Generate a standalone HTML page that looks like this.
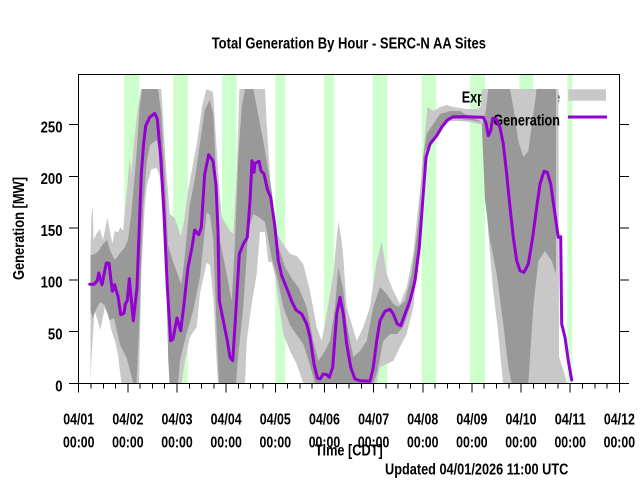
<!DOCTYPE html>
<html><head><meta charset="utf-8"><style>
html,body{margin:0;padding:0;background:#fff;}
svg{display:block;}
text{font-family:"Liberation Sans",Arial,sans-serif;font-weight:bold;font-size:16px;fill:#000;}
.t{font-size:15.5px;}
</style></head><body>
<svg width="640" height="480" viewBox="0 0 640 480" xmlns="http://www.w3.org/2000/svg">
<rect x="0" y="0" width="640" height="480" fill="#fff"/>
<g fill="#ccffcc">
<rect x="124.3" y="74.5" width="15" height="309"/>
<rect x="173.2" y="74.5" width="14.6" height="309"/>
<rect x="222" y="74.5" width="14.7" height="309"/>
<rect x="275.3" y="74.5" width="10" height="309"/>
<rect x="324" y="74.5" width="10" height="309"/>
<rect x="372.7" y="74.5" width="14.6" height="309"/>
<rect x="421.7" y="74.5" width="14.3" height="309"/>
<rect x="470" y="74.5" width="15" height="309"/>
<rect x="519.3" y="74.5" width="14" height="309"/>
<rect x="567.3" y="74.5" width="5" height="309"/>
</g>
<text x="461.7" y="102.7" textLength="98.3" lengthAdjust="spacingAndGlyphs">Expected Range</text>
<rect x="568.3" y="89.3" width="37.7" height="11.4" fill="#c8c8c8"/>
<polygon fill="#c8c8c8" points="90.5,250 91.5,215 92.7,207 93.5,240 96.3,234 99.7,229 103,240 107.3,218 109.7,230 112.3,244 114.7,231 118,232 120.7,227 123,231 127.3,187 129.7,157 131.3,174 134,141 138,107 141,89 161.3,89 165.3,157 169.7,214 174.7,218 178,227 180.7,237 184,221 188,191 193,164 197.3,141 202,107 206.3,89 213,92 218.3,174 221.7,217 230,231 233.3,234 236.7,174 239.3,89 265,89 266.7,124 271.7,201 276.7,234 283.3,244 290,254 296.7,256 303.3,264 310,291 316.7,327 321.7,341 326.7,314 333.3,274 338.3,221 341.7,241 343.3,257 346.7,307 356.7,341 363.3,327 370,307 376.7,261 381.7,242 386.7,274 393.3,291 400,304 406.7,287 413.3,254 420,191 425,134 427.3,107 433.3,111 440,107 446.7,105 453.3,107 466.7,109 476.7,109 481,107 481.7,89 558.5,89 559,357 564,372 567,383.5 503,383.5 498,330 493,290 488,230 484,170 481.7,124 478.3,124 470,122 460,121 450,121 443.3,127 436.7,137 430,146 425,157 421.7,191 418.3,257 413.3,307 406.7,334 400,347 393.3,361 386.7,364 380,367 376.7,383.5 303.3,383.5 296.7,364 290,351 283.3,334 275,276 271.7,262 268.3,262 265,232 260,232 256.7,274 251.7,304 246.7,341 245,383.5 218,383.5 216.5,360 213.5,300 210,265 206.7,263 200,293 196.7,327 190,337 185,360 181.7,383.5 170,383.5 168.3,360 165,227 160,177 156.7,168 151.5,169 147,185 144.7,207 141.3,274 139,383.5 121.5,383.5 118,355 115,341 111.3,330 108,314 104.7,308 100.5,330 94.5,310 91.3,362 90.5,383.5"/>
<polygon fill="#999999" points="90.5,255 92.7,255 98,252 103,244 107.3,240 110,250 114.7,260 121,252 125,247 128,240 131.3,214 136.3,157 139.7,107 142,89 158,89 161.3,114 164.7,174 168,245 173,262 178,275 181.3,285 184.7,257 189.7,205 194.7,180 199.7,145 204.7,110 209.7,100 213.3,114 216.7,191 220,241 226.7,274 231.7,301 235,241 238.3,157 241.7,107 245,89 253.3,89 256.7,107 263.3,141 271.7,191 276.7,241 285,267 293.3,281 298.3,287 306.7,307 313.3,341 318.3,361 325,351 330,341 335,307 338.3,267 343.3,290 346.7,324 353.3,357 360,351 366.7,341 373.3,307 380,287 386.7,294 393.3,304 398.3,307 405,301 411.7,274 418.3,224 423.3,157 426.7,134 433.3,124 440,114 450,111 460,111 470,117 480,121 483,124 486,110 488.3,89 510,89 513.3,107 518.3,141 523.3,157 528.3,151 533.3,114 536.7,89 556,89 556,274 551.7,261 545,251 538.3,261 533.3,307 528.3,383.5 511.7,383.5 508.3,367 503.3,324 496.7,274 490,240 485,200 481.7,122 470,120 460,119 450,119 440,127 431.7,141 425,151 421.7,181 416.7,274 410,307 403.3,327 396.7,334 390,334 383.3,341 376.7,374 373.3,383.5 315,383.5 310,365 303.3,344 296.7,335 290,325 283.3,307 276.7,275 271.7,258 265,222 260,218 253.3,214 248.3,230 243.3,307 238,357 236,383.5 219,383.5 216.7,330 213.3,240 210,215 206.7,212 200,277 193.3,310 186.7,333 180,360 178,383.5 169.5,383.5 168.3,360 165,227 161.7,160 156.7,140 150,145 147,160 143.3,205 141.5,250 139,330 136.5,383.5 133.3,383.5 126.7,358 120,345 114,318 109.7,320 104.7,305 100,302 95,312 92.7,318 90.5,310"/>
<text x="493.3" y="125.7" textLength="66.7" lengthAdjust="spacingAndGlyphs">Generation</text>
<line x1="568" y1="117" x2="607" y2="117" stroke="#9400d3" stroke-width="3"/>
<polyline fill="none" stroke="#9400d3" stroke-width="3" stroke-linejoin="round" stroke-linecap="round" points="89.7,284.3 94,284.3 97.3,280.7 98.7,273 102,284.7 106.3,263 109,263.3 112.3,291.3 114.7,284.7 116,290 118,296 120.7,314.7 124,313.3 125.3,304 127.3,300.7 129.3,278.7 133.3,320.7 137,287.3 141.3,174 143.5,145 145.7,125.7 149.7,117.3 154.7,113.3 157.3,119 160.7,157.3 164,214 167.3,287.3 170.7,340.7 173,339 177,318 180.7,330.7 184,304 188,267.3 192,247.3 194.7,230 198.7,234.7 201.3,227.3 204.7,174 208.7,154.7 213,161 216,185 218,230 219.3,300.7 223.3,320.7 227.3,340.7 230,357.3 232.7,360.7 235.3,320.7 239.3,254 243.3,244 247.3,237.3 250,200.7 252,160.7 254,172.3 255,163.3 259,161.3 261,170.7 264,174 267.3,189 270.7,197.3 275,227.3 278.3,260.7 281.7,275.7 285,284 289,294 291.7,301.3 296,310 301.7,314 306.7,324 310,337.3 314,364 317.3,378 320,379 323.3,374 326.7,374.7 329.3,377.3 332.7,367.3 336.7,314 340,297.3 343.3,314 346.7,344 350.7,367.3 355,379 360,380.7 370,381.3 373.3,367.3 376.7,340.7 380,320.7 385,311.3 390,309.3 393.3,314 397.3,324 400.7,325.7 405,314 410,300.7 415,280.7 419.3,247.3 422.7,200.7 426,157.3 430,144 436.7,135.7 441.7,127.3 447.3,120 453.3,116.7 466.7,116.7 480,117.3 483.3,117.3 486,123.3 488.3,135.7 490.7,130.7 492.7,118.3 496,119 500,127.3 503.3,144 506.7,174 510,207.3 513.3,237.3 516.7,260.7 520,270.7 524,272.3 528.3,264 532.7,237.3 536.7,207.3 540,184 544,171.3 547.3,172.3 550.7,184 554,207.3 557.3,230.7 558.3,237.3 560.7,236.7 561.7,324 565,337.3 568.3,360.7 571.7,380"/>
<rect x="78.5" y="74.5" width="541" height="309" fill="none" stroke="#000" stroke-width="1" shape-rendering="crispEdges"/>
<path fill="none" stroke="#000" stroke-width="1" shape-rendering="crispEdges" d="M69 383.5H78.5M69 331.7H78.5M69 279.9H78.5M69 228.1H78.5M69 176.3H78.5M69 124.5H78.5
M619.5 383.5H629M619.5 331.7H629M619.5 279.9H629M619.5 228.1H629M619.5 176.3H629M619.5 124.5H629
M78.7 383.5V392.5M127.85 383.5V392.5M177 383.5V392.5M226.15 383.5V392.5M275.3 383.5V392.5M324.45 383.5V392.5M373.6 383.5V392.5M422.75 383.5V392.5M471.9 383.5V392.5M521.05 383.5V392.5M570.2 383.5V392.5M619.35 383.5V392.5
M91 383.5V388.5M103.3 383.5V388.5M115.6 383.5V388.5M140.1 383.5V388.5M152.4 383.5V388.5M164.7 383.5V388.5M189.3 383.5V388.5M201.6 383.5V388.5M213.9 383.5V388.5M238.4 383.5V388.5M250.7 383.5V388.5M263 383.5V388.5M287.6 383.5V388.5M299.9 383.5V388.5M312.2 383.5V388.5M336.7 383.5V388.5M349 383.5V388.5M361.3 383.5V388.5M385.9 383.5V388.5M398.2 383.5V388.5M410.5 383.5V388.5M435 383.5V388.5M447.3 383.5V388.5M459.6 383.5V388.5M484.2 383.5V388.5M496.5 383.5V388.5M508.8 383.5V388.5M533.3 383.5V388.5M545.6 383.5V388.5M557.9 383.5V388.5M582.5 383.5V388.5M594.8 383.5V388.5M607.1 383.5V388.5"/>
<text x="55.2" y="391.3" textLength="7.3" lengthAdjust="spacingAndGlyphs">0</text>
<text x="47.9" y="339.5" textLength="14.6" lengthAdjust="spacingAndGlyphs">50</text>
<text x="40.6" y="287.7" textLength="21.9" lengthAdjust="spacingAndGlyphs">100</text>
<text x="40.6" y="235.9" textLength="21.9" lengthAdjust="spacingAndGlyphs">150</text>
<text x="40.6" y="184.1" textLength="21.9" lengthAdjust="spacingAndGlyphs">200</text>
<text x="40.6" y="132.3" textLength="21.9" lengthAdjust="spacingAndGlyphs">250</text>
<g>
<text x="63.2" y="424.3" textLength="31" lengthAdjust="spacingAndGlyphs">04/01</text>
<text x="112.35" y="424.3" textLength="31" lengthAdjust="spacingAndGlyphs">04/02</text>
<text x="161.5" y="424.3" textLength="31" lengthAdjust="spacingAndGlyphs">04/03</text>
<text x="210.65" y="424.3" textLength="31" lengthAdjust="spacingAndGlyphs">04/04</text>
<text x="259.8" y="424.3" textLength="31" lengthAdjust="spacingAndGlyphs">04/05</text>
<text x="308.95" y="424.3" textLength="31" lengthAdjust="spacingAndGlyphs">04/06</text>
<text x="358.1" y="424.3" textLength="31" lengthAdjust="spacingAndGlyphs">04/07</text>
<text x="407.25" y="424.3" textLength="31" lengthAdjust="spacingAndGlyphs">04/08</text>
<text x="456.4" y="424.3" textLength="31" lengthAdjust="spacingAndGlyphs">04/09</text>
<text x="505.55" y="424.3" textLength="31" lengthAdjust="spacingAndGlyphs">04/10</text>
<text x="554.7" y="424.3" textLength="31" lengthAdjust="spacingAndGlyphs">04/11</text>
<text x="603.85" y="424.3" textLength="31" lengthAdjust="spacingAndGlyphs">04/12</text>
<text x="63" y="447.3" textLength="31.5" lengthAdjust="spacingAndGlyphs">00:00</text>
<text x="112.1" y="447.3" textLength="31.5" lengthAdjust="spacingAndGlyphs">00:00</text>
<text x="161.25" y="447.3" textLength="31.5" lengthAdjust="spacingAndGlyphs">00:00</text>
<text x="210.4" y="447.3" textLength="31.5" lengthAdjust="spacingAndGlyphs">00:00</text>
<text x="259.55" y="447.3" textLength="31.5" lengthAdjust="spacingAndGlyphs">00:00</text>
<text x="308.7" y="447.3" textLength="31.5" lengthAdjust="spacingAndGlyphs">00:00</text>
<text x="357.85" y="447.3" textLength="31.5" lengthAdjust="spacingAndGlyphs">00:00</text>
<text x="407" y="447.3" textLength="31.5" lengthAdjust="spacingAndGlyphs">00:00</text>
<text x="456.15" y="447.3" textLength="31.5" lengthAdjust="spacingAndGlyphs">00:00</text>
<text x="505.3" y="447.3" textLength="31.5" lengthAdjust="spacingAndGlyphs">00:00</text>
<text x="554.45" y="447.3" textLength="31.5" lengthAdjust="spacingAndGlyphs">00:00</text>
<text x="603.6" y="447.3" textLength="31.5" lengthAdjust="spacingAndGlyphs">00:00</text>
</g>
<text class="t" x="211.7" y="48.3" textLength="274.3" lengthAdjust="spacingAndGlyphs">Total Generation By Hour - SERC-N AA Sites</text>
<text x="315" y="455.5" textLength="67.7" lengthAdjust="spacingAndGlyphs">Time [CDT]</text>
<text x="385" y="474.7" textLength="183.3" lengthAdjust="spacingAndGlyphs">Updated 04/01/2026 11:00 UTC</text>
<text transform="translate(24,280) rotate(-90)" x="0" y="0" textLength="103" lengthAdjust="spacingAndGlyphs">Generation [MW]</text>
</svg>
</body></html>
